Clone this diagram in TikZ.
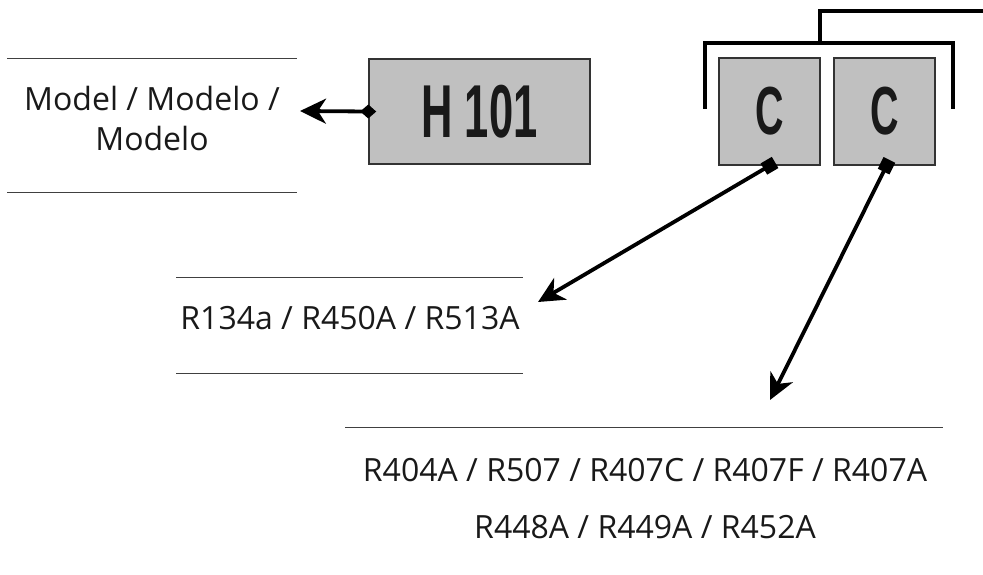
\documentclass[tikz,border=0pt]{standalone}
\usepackage{fontspec}
\setmainfont{Open Sans}
\newfontfamily\tagfont{Liberation Sans}
\usetikzlibrary{arrows.meta, calc, positioning}

\definecolor{boxgray}{HTML}{C0C0C0}
\definecolor{edgegray}{HTML}{333333}

\tikzset{
	endbarb/.tip={Stealth[length=26pt, width=25pt, inset=8pt]},
	startgem/.tip={Turned Square[length=16pt, width=14pt]},
	startsq/.tip={Square[length=13pt, width=13pt]}
}

\newcommand{\codetag}[2]{\scalebox{0.58}[1]{\fontsize{#1}{#1}\tagfont\bfseries #2}}

\begin{document}
\begin{tikzpicture}[x=1pt, y=-1pt,
		codebox/.style={draw=edgegray, line width=1.5pt, fill=boxgray, inner sep=0pt, text=black!90},
		lbl/.style={anchor=base, inner sep=0pt, font=\fontsize{32}{38}\selectfont, text=black!90},
		rule/.style={draw=black!75, line width=1pt},
		bracket/.style={draw=black, line width=4pt, line cap=rect},
		callout/.style={line width=3.8pt}]
		\useasboundingbox (0,0) rectangle (983,575);

		% code boxes
		\node[codebox, minimum width=221pt, minimum height=105pt] (h101) at (479.5,111.5) {\codetag{75}{H 101}};
		\node[codebox, minimum width=101pt, minimum height=107pt] (c1) at (769.5,111.5) {\codetag{68}{C}};
		\node[codebox, minimum width=101pt, minimum height=107pt] (c2) at (884.5,111.5) {\codetag{68}{C}};

		% bracket over the two C boxes
		\draw[bracket] (705,107) -- (705,43) -- (953,43) -- (953,107);
		\draw[bracket, line cap=butt] (820,43) -- (820,11) -- (985,11);

		% model
		\draw[rule] (7,59) -- (297,59);
		\node[lbl] (model) at (152,111) {Model / Modelo /};
		\node[lbl] (model2) at ([yshift=-39pt]model.base) {Modelo};
		\draw[rule] (7,193) -- (297,193);

		% first refrigerant group
		\draw[rule] (176,277) -- (523,277);
		\node[lbl] (gas1) at (350,329) {R134a / R450A / R513A};
		\draw[rule] (176,373) -- (523,373);

		% second refrigerant group
		\draw[rule] (345,427) -- (943,427);
		\node[lbl] (gas2) at (645,481) {R404A / R507 / R407C / R407F / R407A};
		\node[lbl] (gas3) at ([yshift=-57pt]gas2.base) {R448A / R449A / R452A};

		\coordinate (mtip) at (300,111);
		\coordinate (g1tip) at (538,302);
		\coordinate (g2tip) at (770,400);

		\draw[callout, {startgem}-{endbarb}, shorten <=-8pt] (h101.west) -- (mtip);
		\draw[callout, {startsq}-{endbarb}, shorten <=-6.5pt] (c1.south) -- (g1tip);
		\draw[callout, {startsq}-{endbarb}, shorten <=-6.5pt] ([xshift=2pt]c2.south) -- (g2tip);
	\end{tikzpicture}
\end{document}
